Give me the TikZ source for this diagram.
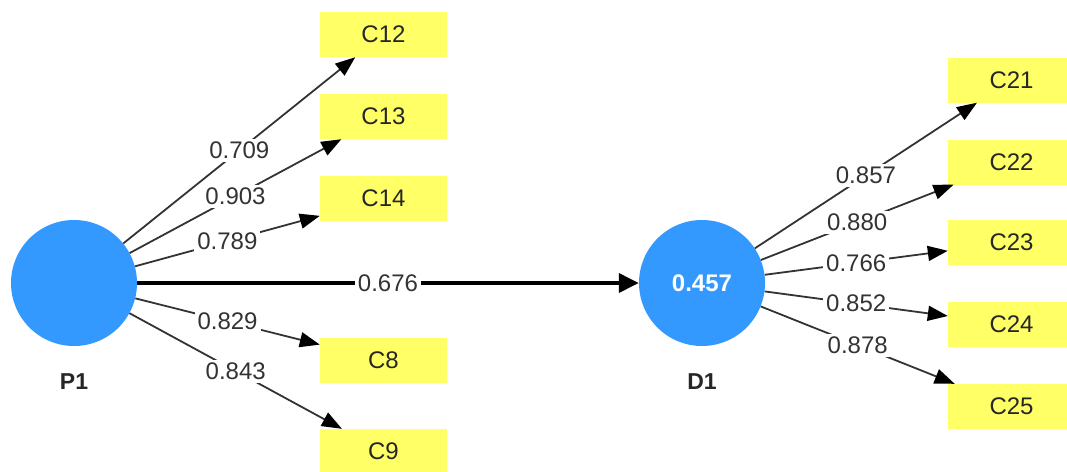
\documentclass[tikz,border=0pt]{standalone}
\usepackage{fontspec}
\setmainfont{Liberation Sans}
\usetikzlibrary{arrows.meta}

\definecolor{latblue}{HTML}{3399FF}
\definecolor{indyellow}{HTML}{FFFF66}
\definecolor{txtgray}{HTML}{333333}

\tikzset{
  latent/.style={circle, fill=latblue, minimum size=126pt, inner sep=0pt,
    text=white, font=\fontsize{24}{28}\selectfont\bfseries},
  indicator/.style={rectangle, fill=indyellow, minimum width=127pt,
    minimum height=45pt, inner sep=0pt, text=black!85, font=\fontsize{24}{28}\selectfont},
  loading/.style={draw=txtgray, line width=1.8pt, -{Triangle[length=20pt,width=15pt,color=black]}},
  path/.style={draw=black, line width=3.5pt, -{Triangle[length=20pt,width=19pt]}},
  weight/.style={fill=white, inner sep=3pt, text=txtgray, font=\fontsize{24}{28}\selectfont},
  lvname/.style={text=black!85, font=\fontsize{23}{27}\selectfont\bfseries}
}

\begin{document}
\begin{tikzpicture}[x=1pt,y=-1pt]

  \clip (0,0) rectangle (1067,471);

  \node[latent] (P1) at (74,283) {};
  \node[latent] (D1) at (702,283) {0.457};
  \node[lvname] (P1name) at (74,382) {P1};
  \node[lvname] (D1name) at (702,382) {D1};

  \node[indicator] (C12) at (383.5,34.5) {C12};
  \node[indicator] (C13) at (383.5,116.5) {C13};
  \node[indicator] (C14) at (383.5,198.5) {C14};
  \node[indicator] (C8) at (383.5,360.5) {C8};
  \node[indicator] (C9) at (383.5,451.5) {C9};

  \node[indicator] (C21) at (1011.5,80) {C21};
  \node[indicator] (C22) at (1011.5,162) {C22};
  \node[indicator] (C23) at (1011.5,242.5) {C23};
  \node[indicator] (C24) at (1011.5,324.5) {C24};
  \node[indicator] (C25) at (1011.5,406.5) {C25};

  \draw[loading] (P1) -- node[weight] {0.709} (C12);
  \draw[loading] (P1) -- node[weight] {0.903} (C13);
  \draw[loading] (P1) -- node[weight] {0.789} (C14);
  \draw[loading] (P1) -- node[weight] {0.829} (C8);
  \draw[loading] (P1) -- node[weight] {0.843} (C9);

  \draw[loading] (D1) -- node[weight] {0.857} (C21);
  \draw[loading] (D1) -- node[weight] {0.880} (C22);
  \draw[loading] (D1) -- node[weight] {0.766} (C23);
  \draw[loading] (D1) -- node[weight] {0.852} (C24);
  \draw[loading] (D1) -- node[weight] {0.878} (C25);

  \draw[path] (P1) -- node[weight] {0.676} (D1);

\end{tikzpicture}
\end{document}
